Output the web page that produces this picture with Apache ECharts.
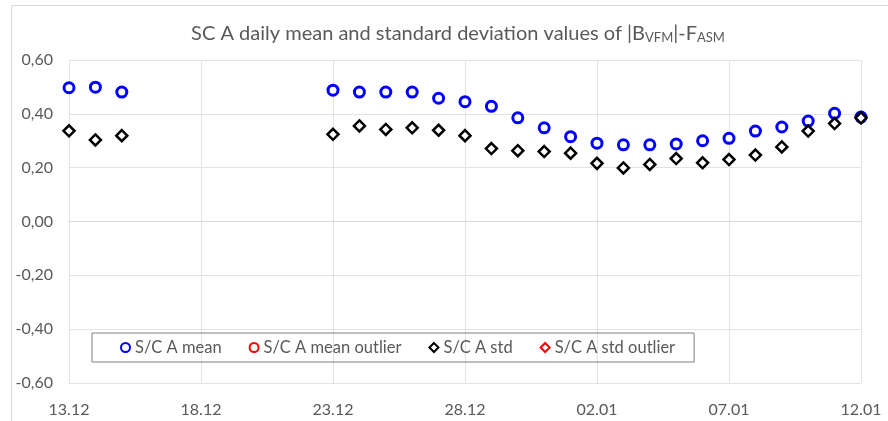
<!DOCTYPE html>
<html>
<head>
<meta charset="utf-8">
<script src="https://cdn.jsdelivr.net/npm/echarts@6/dist/echarts.min.js"></script>
<style>
html,body{margin:0;padding:0;background:#fff;}
#chart{width:888px;height:421px;}
</style>
</head>
<body>
<div id="chart"></div>
<script>
// dates 13.12 - 12.01, missing days left as null
var dates=['13.12','14.12','15.12','16.12','17.12','18.12','19.12','20.12','21.12','22.12',
	'23.12','24.12','25.12','26.12','27.12','28.12','29.12','30.12','31.12',
	'01.01','02.01','03.01','04.01','05.01','06.01','07.01','08.01','09.01','10.01','11.01','12.01'];
var meanValues=[0.497,0.499,0.481,null,null,null,null,null,null,null,
	0.488,0.481,0.481,0.481,0.458,0.445,0.428,0.385,0.348,
	0.315,0.291,0.285,0.285,0.288,0.300,0.309,0.336,0.351,0.373,0.402,0.388];
var stdValues=[0.337,0.303,0.319,null,null,null,null,null,null,null,
	0.324,0.355,0.342,0.348,0.339,0.319,0.271,0.263,0.260,
	0.254,0.216,0.199,0.212,0.234,0.218,0.230,0.247,0.277,0.336,0.364,0.385];
var meanOutlier=[];
var stdOutlier=[];
var seriesNames=['S/C A mean','S/C A mean outlier','S/C A std','S/C A std outlier'];

var font="Lato,sans-serif";
var chart=echarts.init(document.getElementById('chart'));
var option={
	animation:false,
	graphic:[{
		type:'rect',
		shape:{x:11.5,y:5.5,width:900,height:430},
		style:{fill:null,stroke:'#d9d9d9',lineWidth:1},
		silent:true
	}],
	title:{
		text:'SC A daily mean and standard deviation values of |B{s|VFM}|-F{s|ASM}',
		left:453,
		textAlign:'center',
		top:18,
		textStyle:{
			fontFamily:font,
			fontSize:20,
			fontWeight:'normal',
			color:'#595959',
			rich:{
				s:{fontFamily:font,fontSize:13,color:'#595959',verticalAlign:'bottom',padding:[8,0,0,0]}
			}
		}
	},
	legend:{
		data:seriesNames,
		left:92,
		top:333,
		orient:'horizontal',
		padding:[6,19,6,28],
		itemGap:27,
		itemWidth:9,
		itemHeight:9,
		borderColor:'#7f7f7f',
		borderWidth:1,
		textStyle:{fontFamily:font,fontSize:16.5,color:'#595959'}
	},
	grid:{left:69,right:27,top:60,bottom:38,containLabel:false},
	xAxis:{
		type:'category',
		data:dates,
		boundaryGap:false,
		axisLine:{show:true,lineStyle:{color:'#d9d9d9'}},
		axisTick:{show:false},
		axisLabel:{interval:4,color:'#595959',fontFamily:font,fontSize:16,margin:19},
		splitLine:{show:true,interval:4,lineStyle:{color:'#e3e3e3'}}
	},
	yAxis:{
		type:'value',
		min:-0.6,
		max:0.6,
		interval:0.2,
		axisLine:{show:false},
		axisTick:{show:false},
		axisLabel:{
			color:'#595959',fontFamily:font,fontSize:16,margin:16,
			formatter:function(v){return v.toFixed(2).replace('.',',');}
		},
		splitLine:{lineStyle:{color:'#e3e3e3'}}
	},
	series:[{
		name:seriesNames[0],
		type:'scatter',
		data:meanValues,
		symbol:'circle',
		symbolSize:10,
		itemStyle:{color:'#ffffff',borderColor:'#0000ff',borderWidth:3,opacity:1}
	},{
		name:seriesNames[1],
		type:'scatter',
		data:meanOutlier,
		symbol:'circle',
		symbolSize:10,
		itemStyle:{color:'#ffffff',borderColor:'#ff0000',borderWidth:3,opacity:1}
	},{
		name:seriesNames[2],
		type:'scatter',
		data:stdValues,
		symbol:'diamond',
		symbolSize:11,
		itemStyle:{color:'#ffffff',borderColor:'#000000',borderWidth:2.5,opacity:1}
	},{
		name:seriesNames[3],
		type:'scatter',
		data:stdOutlier,
		symbol:'diamond',
		symbolSize:11,
		itemStyle:{color:'#ffffff',borderColor:'#ff0000',borderWidth:2.5,opacity:1}
	}]
};
chart.setOption(option);
</script>
</body>
</html>
